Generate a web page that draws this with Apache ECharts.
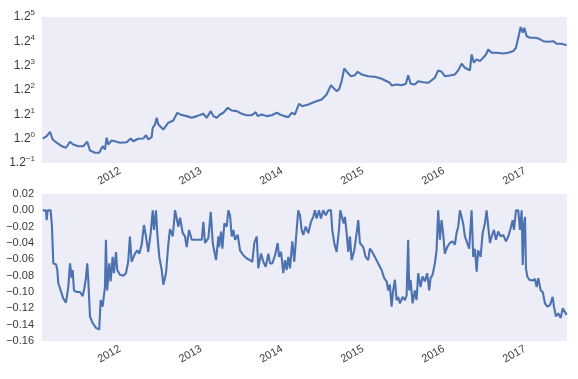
<!DOCTYPE html>
<html>
<head>
<meta charset="utf-8">
<script src="https://cdn.jsdelivr.net/npm/echarts@6/dist/echarts.min.js"></script>
<style>
html,body{margin:0;padding:0;background:#fff;}
#c{width:578px;height:379px;}
</style>
</head>
<body>
<div id="c"></div>
<script>
// Dates as decimal years
const yearTicks = [2012, 2013, 2014, 2015, 2016, 2017];
const xStart = 2011.037;
const xEnd = 2017.519;

const equityDates = [
2011.046,2011.095,2011.136,2011.169,2011.219,2011.280,2011.333,2011.383,2011.423,2011.485,
2011.547,2011.596,2011.630,2011.691,2011.744,2011.786,2011.815,2011.836,2011.856,2011.898,
2011.938,2012.000,2012.083,2012.132,2012.164,2012.226,2012.288,2012.321,2012.349,2012.391,
2012.404,2012.432,2012.453,2012.473,2012.535,2012.596,2012.658,2012.707,2012.741,2012.823,
2012.885,2012.947,2013.028,2013.070,2013.120,2013.152,2013.194,2013.235,2013.275,2013.330,
2013.379,2013.441,2013.502,2013.564,2013.626,2013.675,2013.700,2013.749,2013.811,2013.873,
2013.935,2013.975,2014.028,2014.078,2014.120,2014.160,2014.210,2014.251,2014.325,2014.407,
2014.490,2014.552,2014.605,2014.633,2014.675,2014.704,2014.737,2014.769,2014.811,2014.852,
2014.901,2014.935,2014.984,2015.065,2015.148,2015.231,2015.293,2015.333,2015.354,2015.374,
2015.416,2015.478,2015.531,2015.559,2015.589,2015.642,2015.683,2015.744,2015.806,2015.848,
2015.889,2015.930,2015.972,2016.012,2016.074,2016.136,2016.177,2016.219,2016.259,2016.321,
2016.342,2016.370,2016.404,2016.444,2016.485,2016.519,2016.547,2016.589,2016.651,2016.732,
2016.794,2016.856,2016.889,2016.917,2016.947,2016.972,2016.991,2017.021,2017.062,2017.123,
2017.164,2017.226,2017.288,2017.349,2017.391,2017.453,2017.515
];
const equityValues = [
1.001,1.019,1.053,0.994,0.970,0.945,0.934,0.977,0.957,0.945,
0.945,0.977,0.915,0.900,0.900,0.945,0.922,1.007,0.957,0.987,
0.981,0.970,0.974,1.001,0.981,0.999,1.001,1.027,0.994,1.011,
1.085,1.112,1.170,1.112,1.071,1.127,1.146,1.214,1.199,1.184,
1.170,1.184,1.205,1.170,1.229,1.184,1.170,1.199,1.214,1.260,
1.235,1.229,1.205,1.192,1.192,1.220,1.184,1.199,1.184,1.192,
1.214,1.199,1.184,1.175,1.214,1.199,1.299,1.276,1.292,1.318,
1.341,1.393,1.493,1.465,1.428,1.446,1.538,1.693,1.638,1.597,
1.609,1.651,1.618,1.597,1.590,1.566,1.538,1.520,1.490,1.495,
1.501,1.493,1.509,1.609,1.509,1.501,1.538,1.527,1.520,1.547,
1.578,1.668,1.651,1.597,1.605,1.618,1.668,1.754,1.701,1.668,
1.879,1.767,1.811,1.788,1.834,1.879,1.951,1.903,1.903,1.894,
1.903,1.927,1.976,2.130,2.307,2.211,2.296,2.155,2.130,2.130,
2.119,2.076,2.067,2.076,2.036,2.036,2.015
];

const drawdownDates = [
2011.046,2011.086,2011.095,2011.107,2011.144,2011.160,2011.177,2011.210,2011.226,2011.238,
2011.268,2011.300,2011.333,2011.362,2011.383,2011.404,2011.416,2011.432,2011.465,2011.506,
2011.540,2011.559,2011.580,2011.596,2011.609,2011.630,2011.663,2011.704,2011.744,2011.762,
2011.786,2011.815,2011.827,2011.843,2011.868,2011.885,2011.910,2011.926,2011.951,2011.967,
2012.000,2012.041,2012.074,2012.102,2012.123,2012.144,2012.185,2012.214,2012.238,2012.268,
2012.296,2012.321,2012.349,2012.379,2012.404,2012.420,2012.444,2012.460,2012.485,2012.515,
2012.535,2012.568,2012.596,2012.617,2012.651,2012.679,2012.700,2012.720,2012.741,2012.774,
2012.802,2012.823,2012.852,2012.885,2012.926,2012.967,2013.009,2013.028,2013.049,2013.090,
2013.120,2013.144,2013.185,2013.214,2013.222,2013.247,2013.263,2013.288,2013.317,2013.337,
2013.358,2013.379,2013.399,2013.420,2013.453,2013.481,2013.522,2013.564,2013.605,2013.633,
2013.658,2013.688,2013.707,2013.741,2013.769,2013.799,2013.831,2013.852,2013.880,2013.914,
2013.947,2013.963,2013.988,2014.016,2014.037,2014.058,2014.078,2014.099,2014.127,2014.152,
2014.181,2014.201,2014.222,2014.243,2014.263,2014.293,2014.325,2014.358,2014.386,2014.407,
2014.428,2014.457,2014.481,2014.510,2014.540,2014.572,2014.605,2014.621,2014.646,2014.675,
2014.704,2014.720,2014.744,2014.762,2014.778,2014.799,2014.819,2014.840,2014.860,2014.893,
2014.922,2014.942,2014.963,2015.004,2015.033,2015.065,2015.086,2015.115,2015.148,2015.189,
2015.231,2015.263,2015.293,2015.312,2015.333,2015.354,2015.374,2015.395,2015.416,2015.436,
2015.457,2015.490,2015.519,2015.540,2015.559,2015.572,2015.589,2015.614,2015.642,2015.663,
2015.683,2015.712,2015.737,2015.765,2015.794,2015.819,2015.836,2015.860,2015.889,2015.910,
2015.930,2015.951,2015.972,2015.991,2016.012,2016.041,2016.074,2016.107,2016.136,2016.156,
2016.177,2016.198,2016.219,2016.238,2016.259,2016.288,2016.312,2016.342,2016.362,2016.383,
2016.404,2016.423,2016.453,2016.478,2016.506,2016.527,2016.547,2016.568,2016.589,2016.617,
2016.642,2016.670,2016.700,2016.732,2016.765,2016.794,2016.823,2016.848,2016.864,2016.889,
2016.917,2016.938,2016.959,2016.972,2016.988,2017.000,2017.012,2017.028,2017.053,2017.095,
2017.123,2017.144,2017.164,2017.194,2017.219,2017.247,2017.275,2017.309,2017.342,2017.358,
2017.383,2017.411,2017.441,2017.466,2017.481,2017.515
];
const drawdownValues = [
0.000,0.000,-0.012,0.000,0.000,-0.020,-0.065,-0.066,-0.073,-0.089,
-0.098,-0.108,-0.113,-0.094,-0.065,-0.083,-0.073,-0.098,-0.100,-0.100,
-0.105,-0.096,-0.083,-0.065,-0.085,-0.130,-0.138,-0.144,-0.146,-0.110,
-0.118,-0.094,-0.036,-0.098,-0.065,-0.087,-0.057,-0.077,-0.051,-0.073,
-0.079,-0.080,-0.077,-0.063,-0.032,-0.063,-0.053,-0.049,-0.053,-0.042,
-0.018,-0.032,-0.051,-0.028,0.000,-0.024,0.000,-0.028,-0.057,-0.073,
-0.091,-0.077,-0.042,-0.023,-0.032,0.000,0.000,-0.020,-0.009,-0.028,
-0.032,-0.045,-0.024,-0.036,-0.036,-0.036,-0.036,-0.014,-0.040,-0.034,
-0.002,-0.040,-0.061,-0.032,-0.045,-0.026,-0.047,-0.016,-0.020,0.000,
-0.006,-0.032,-0.024,-0.036,-0.030,-0.049,-0.055,-0.059,-0.061,-0.063,
-0.040,-0.032,-0.071,-0.053,-0.063,-0.069,-0.053,-0.065,-0.065,-0.055,
-0.040,-0.057,-0.051,-0.077,-0.061,-0.073,-0.057,-0.071,-0.038,-0.063,
-0.024,0.000,-0.006,-0.024,-0.030,-0.020,-0.028,-0.014,-0.008,0.000,
-0.010,0.000,-0.010,0.000,-0.006,0.000,0.000,-0.024,-0.040,-0.051,
-0.024,0.000,0.000,-0.016,-0.008,-0.028,-0.051,-0.032,-0.061,-0.049,
-0.028,-0.012,-0.040,-0.045,-0.057,-0.061,-0.047,-0.051,-0.057,-0.065,
-0.073,-0.083,-0.087,-0.098,-0.091,-0.118,-0.098,-0.085,-0.110,-0.106,
-0.114,-0.106,-0.110,-0.104,-0.036,-0.098,-0.085,-0.114,-0.098,-0.110,
-0.077,-0.094,-0.081,-0.087,-0.077,-0.098,-0.083,-0.079,-0.065,-0.049,
0.000,-0.036,-0.012,-0.028,-0.053,-0.045,-0.040,-0.038,-0.042,-0.028,
-0.020,0.000,0.000,-0.016,-0.032,-0.040,-0.047,0.000,-0.057,-0.047,
-0.075,-0.049,-0.057,-0.028,-0.016,0.000,-0.020,-0.040,-0.032,-0.024,
-0.036,-0.026,-0.032,-0.030,-0.038,-0.032,-0.022,-0.012,-0.024,0.000,
0.000,-0.024,0.000,-0.067,-0.016,-0.008,-0.071,-0.081,-0.085,-0.086,
-0.084,-0.094,-0.083,-0.098,-0.100,-0.114,-0.118,-0.116,-0.106,-0.118,
-0.130,-0.126,-0.132,-0.120,-0.122,-0.128
];

function toTs(y) {
  const yr = Math.floor(y);
  const a = Date.UTC(yr, 0, 1), b = Date.UTC(yr + 1, 0, 1);
  return a + (y - yr) * (b - a);
}

const FONT = "'Liberation Sans', Arial, sans-serif";
const TXT = '#3a3a3a';
const BG = '#EDEDF8';
const LINE = '#4C72B0';

const equityData = equityDates.map((d, i) => [toTs(d), equityValues[i]]);
const drawdownData = drawdownDates.map((d, i) => [toTs(d), drawdownValues[i]]);
const yearTs = yearTicks.map(y => Date.UTC(y, 0, 1));

function xAxisCfg(gi) {
  return {
    type: 'value', gridIndex: gi,
    min: toTs(xStart), max: toTs(xEnd),
    axisLine: {show: false}, axisTick: {show: false}, splitLine: {show: false},
    axisLabel: {
      customValues: yearTs,
      formatter: v => String(new Date(v).getUTCFullYear()),
      rotate: 30, margin: 7, fontSize: 11, color: TXT, fontFamily: FONT
    }
  };
}

const chart = echarts.init(document.getElementById('c'), null, {renderer: 'canvas'});
chart.setOption({
  animation: false,
  grid: [
    {left: 42, right: 11, top: 17, height: 146, show: true, backgroundColor: BG, borderWidth: 0},
    {left: 42, right: 11, top: 194, height: 147, show: true, backgroundColor: BG, borderWidth: 0}
  ],
  xAxis: [xAxisCfg(0), xAxisCfg(1)],
  yAxis: [
    {
      type: 'log', logBase: 1.2, gridIndex: 0,
      min: 1 / 1.2, max: Math.pow(1.2, 5), splitNumber: 6,
      axisLine: {show: false}, axisTick: {show: false}, splitLine: {show: false},
      axisLabel: {
        margin: 7,
        formatter: v => {
          const e = Math.round(Math.log(v) / Math.log(1.2));
          return '{b|1.2}{s|' + (e < 0 ? '\u2212' + Math.abs(e) : e) + '}';
        },
        rich: {
          b: {fontSize: 12, color: TXT, fontFamily: FONT, lineHeight: 16},
          s: {fontSize: 8, color: TXT, fontFamily: FONT, verticalAlign: 'top', lineHeight: 9}
        }
      }
    },
    {
      type: 'value', gridIndex: 1,
      min: -0.16, max: 0.02, interval: 0.02,
      axisLine: {show: false}, axisTick: {show: false}, splitLine: {show: false},
      axisLabel: {
        margin: 8, fontSize: 11, color: TXT, fontFamily: FONT,
        formatter: v => {
          if (Math.abs(v) < 1e-9) return '0.00';
          return (v < 0 ? '\u2212' : '') + Math.abs(v).toFixed(2);
        }
      }
    }
  ],
  series: [
    {
      type: 'line', xAxisIndex: 0, yAxisIndex: 0, data: equityData,
      showSymbol: false, symbol: 'none', lineStyle: {color: LINE, width: 2.1}
    },
    {
      type: 'line', xAxisIndex: 1, yAxisIndex: 1, data: drawdownData,
      showSymbol: false, symbol: 'none', lineStyle: {color: LINE, width: 2.1}
    }
  ]
});
</script>
</body>
</html>
